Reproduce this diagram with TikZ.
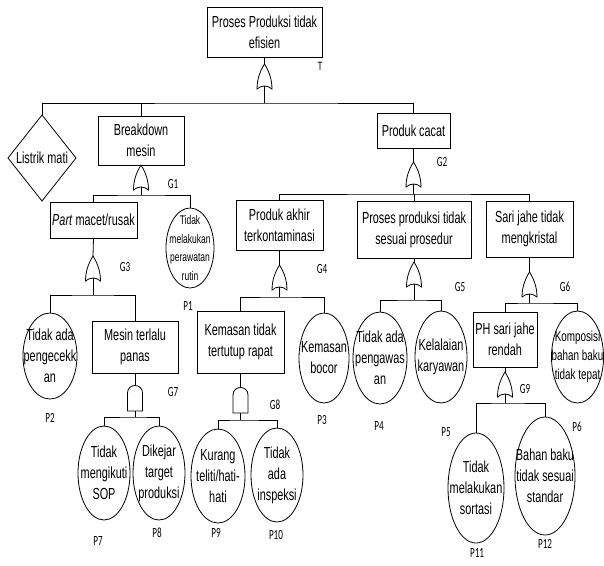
\documentclass[tikz,border=0pt]{standalone}
\usepackage{fontspec}
\setmainfont{Liberation Sans}[FakeStretch=0.68]
\newfontfamily\lblfont{Carlito}[FakeStretch=0.65]
\usetikzlibrary{shapes.geometric}

% OR gate: pointed arch with a concave base; -in is the apex, -out the base notch
\tikzset{
  orgate/.pic={
    \draw[fill=white] (-7.5,25) .. controls (-7.5,13) and (-3,5) .. (0,0)
      .. controls (3,5) and (7.5,13) .. (7.5,25)
      .. controls (3,21) and (-3,21) .. (-7.5,25) -- cycle;
    \coordinate (-in) at (0,0);
    \coordinate (-out) at (0,22);
  },
  andgate/.pic={
    \draw[fill=white] (-7.5,26) -- (-7.5,8) .. controls (-7.5,-2) and (7.5,-2) .. (7.5,8)
      -- (7.5,26) -- cycle;
    \coordinate (-in) at (0,0.5);
    \coordinate (-out) at (0,26);
  }
}

\begin{document}
\begin{tikzpicture}[x=1pt,y=-1pt,line width=0.8pt,
  every node/.style={inner sep=0pt,outer sep=0pt},
  txt/.style={align=center,font=\fontsize{16}{21}\selectfont},
  smalltxt/.style={align=center,font=\fontsize{12.5}{18.5}\selectfont},
  tighttxt/.style={align=center,font=\fontsize{14.5}{19}\selectfont},
  event/.style={draw,rectangle,fill=white,txt},
  basic/.style={draw,ellipse,fill=white},
  cond/.style={draw,diamond,fill=white},
  lbl/.style={font=\lblfont\fontsize{14}{16}\selectfont}]

\fill[white] (0,0) rectangle (604,565);
\useasboundingbox (0,0) rectangle (604,565);

% intermediate events
\node[event,minimum width=115pt,minimum height=50pt] (T) at (264.5,32) {Proses Produksi tidak\\efisien};
\node[event,minimum width=86pt,minimum height=49pt] (breakdown) at (141,140.5) {Breakdown\\mesin};
\node[event,minimum width=73pt,minimum height=35pt] (produk) at (413.5,130.5) {Produk cacat};
\node[event,minimum width=87pt,minimum height=36pt] (part) at (93.5,220) {\textit{Part} macet/rusak};
\node[event,minimum width=87pt,minimum height=50pt] (akhir) at (279.5,225) {Produk akhir\\terkontaminasi};
\node[event,minimum width=114pt,minimum height=57pt] (prosedur) at (414,229.5) {Proses produksi tidak\\sesuai prosedur};
\node[event,minimum width=87pt,minimum height=56pt] (sari) at (529.5,229) {Sari jahe tidak\\mengkristal};
\node[event,minimum width=86pt,minimum height=52pt] (mesin) at (135,347) {Mesin terlalu\\panas};
\node[event,minimum width=87pt,minimum height=62pt] (kemasan) at (240.5,342) {Kemasan tidak\\tertutup rapat};
\node[event,minimum width=64pt,minimum height=55pt] (ph) at (505,339.5) {PH sari jahe\\rendah};

% undeveloped event
\node[cond,minimum width=68pt,minimum height=86pt] (listrik) at (42,158) {};
\node[txt] (listrikt) at (listrik) {Listrik mati};

% basic events
\node[basic,minimum width=48pt,minimum height=80pt] (p1) at (190,248) {};
\node[smalltxt] (p1t) at (p1) {Tidak\\melakukan\\perawatan\\rutin};
\node[basic,minimum width=54pt,minimum height=86pt] (p2) at (50,356) {};
\node[txt] (p2t) at (p2) {Tidak ada\\pengecekk\\an};
\node[basic,minimum width=50pt,minimum height=90pt] (p3) at (324,358) {};
\node[txt] (p3t) at (p3) {Kemasan\\bocor};
\node[basic,minimum width=54pt,minimum height=92pt] (p4) at (380,358) {};
\node[txt] (p4t) at (p4) {Tidak ada\\pengawas\\an};
\node[basic,minimum width=52pt,minimum height=92pt] (p5) at (441,357) {};
\node[txt] (p5t) at (p5) {Kelalaian\\karyawan};
\node[basic,minimum width=52pt,minimum height=92pt] (p6) at (577.5,357) {};
\node[tighttxt] (p6t) at (p6) {Komposisi\\bahan baku\\tidak tepat};
\node[basic,minimum width=52pt,minimum height=94pt] (p7) at (104,473) {};
\node[txt] (p7t) at (p7) {Tidak\\mengikuti\\SOP};
\node[basic,minimum width=52pt,minimum height=94pt] (p8) at (159,473) {};
\node[txt] (p8t) at (p8) {Dikejar\\target\\produksi};
\node[basic,minimum width=54pt,minimum height=94pt] (p9) at (218,476) {};
\node[txt] (p9t) at (p9) {Kurang\\teliti/hati-\\hati};
\node[basic,minimum width=52pt,minimum height=94pt] (p10) at (277,475) {};
\node[txt] (p10t) at (p10) {Tidak\\ada\\inspeksi};
\node[basic,minimum width=56pt,minimum height=110pt] (p11) at (476,488) {};
\node[txt] (p11t) at (p11) {Tidak\\melakukan\\sortasi};
\node[basic,minimum width=60pt,minimum height=118pt] (p12) at (545,476) {};
\node[txt] (p12t) at (p12) {Bahan baku\\tidak sesuai\\standar};

% gates
\pic (gT) at (264.5,64) {orgate};
\pic (g1) at (141,165) {orgate};
\pic (g2) at (413.5,162) {orgate};
\pic (g3) at (93,256) {orgate};
\pic (g4) at (279.5,265) {orgate};
\pic (g5) at (414,262) {orgate};
\pic (g6) at (529.5,272) {orgate};
\pic (g7) at (135,385) {andgate};
\pic (g8) at (240.5,387) {andgate};
\pic (g9) at (505,372) {orgate};

% branch points under each gate
\coordinate (bT) at (264.5,103);
\coordinate (b1) at (141,195);
\coordinate (b2) at (413.5,194);
\coordinate (b3) at (93,295);
\coordinate (b4) at (279.5,297);
\coordinate (b5) at (414,300);
\coordinate (b6) at (529.5,303);
\coordinate (b7) at (135,417);
\coordinate (b8) at (240.5,420);
\coordinate (b9) at (505,403);

% connectors
\draw (T.south) -- (gT-in);
\draw (gT-out) -- (bT);
\draw (listrik.north) |- (bT) -| (produk.north);
\draw (breakdown.north) -- (breakdown.north |- bT);

\draw (breakdown.south) -- (g1-in);
\draw (g1-out) -- (b1);
\draw (part.north) |- (b1) -| (p1.north);

\draw (produk.south) -- (g2-in);
\draw (g2-out) -- (b2);
\draw (akhir.north) |- (b2) -| (sari.north);
\draw (prosedur.north) -- (prosedur.north |- b2);

\draw (part.south) -- (g3-in);
\draw (g3-out) -- (b3);
\draw (p2.north) |- (b3) -| (mesin.north);

\draw (akhir.south) -- (g4-in);
\draw (g4-out) -- (b4);
\draw (kemasan.north) |- (b4) -| (p3.north);

\draw (prosedur.south) -- (g5-in);
\draw (g5-out) -- (b5);
\draw (p4.north) |- (b5) -| (p5.north);

\draw (sari.south) -- (g6-in);
\draw (g6-out) -- (b6);
\draw (ph.north) |- (b6) -| (p6.north);

\draw (mesin.south) -- (g7-in);
\draw (g7-out) -- (b7);
\draw (p7.north) |- (b7) -| (p8.north);

\draw (kemasan.south) -- (g8-in);
\draw (g8-out) -- (b8);
\draw (p9.north) |- (b8) -| (p10.north);

\draw (ph.south) -- (g9-in);
\draw (g9-out) -- (b9);
\draw (p11.north) |- (b9) -| (p12.north);

% event and gate codes
\node[font=\fontsize{12}{14}\selectfont] (lT) at (320,66) {T};
\node[lbl] (l1) at (173,184) {G1};
\node[lbl] (l2) at (442,162) {G2};
\node[lbl] (l3) at (125,267) {G3};
\node[lbl] (l4) at (322,269) {G4};
\node[lbl] (l5) at (460,287) {G5};
\node[lbl] (l6) at (565,287) {G6};
\node[lbl] (l7) at (173,392) {G7};
\node[lbl] (l8) at (275,405) {G8};
\node[lbl] (l9) at (525,389) {G9};
\node[lbl] (lp1) at (188,306) {P1};
\node[lbl] (lp2) at (50,418) {P2};
\node[lbl] (lp3) at (322,420) {P3};
\node[lbl] (lp4) at (379,426) {P4};
\node[lbl] (lp5) at (446,432) {P5};
\node[lbl] (lp6) at (577,427) {P6};
\node[lbl] (lp7) at (98,541) {P7};
\node[lbl] (lp8) at (157,533) {P8};
\node[lbl] (lp9) at (216,533) {P9};
\node[lbl] (lp10) at (276,535) {P10};
\node[lbl] (lp11) at (477,553) {P11};
\node[lbl] (lp12) at (545,544) {P12};

\end{tikzpicture}
\end{document}
